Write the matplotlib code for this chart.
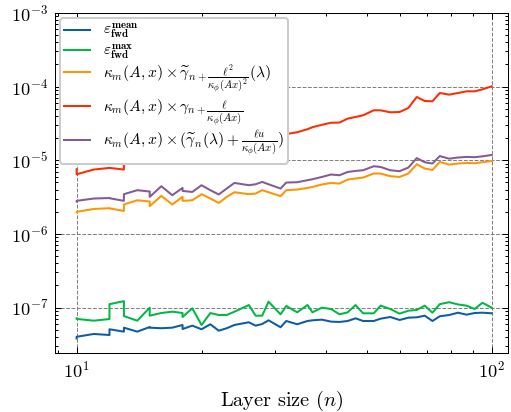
import matplotlib
matplotlib.use("Agg")
import matplotlib.pyplot as plt
from matplotlib.ticker import NullFormatter

# ---- data ----
layer_sizes = [10, 10, 11, 12, 12, 13, 13, 14, 15, 15, 16, 17, 18, 18, 19, 20, 21, 22, 23, 24,
               26, 27, 28, 29, 31, 32, 34, 36, 37, 39, 41, 43, 45, 47, 49, 52, 54, 57, 60, 63,
               66, 69, 72, 75, 79, 83, 87, 91, 95, 100]

eps_mean = [3.8, 4.0, 4.37, 4.23, 5.06, 4.7, 5.32, 4.7, 5.43, 5.32, 5.23, 5.32, 5.79, 5.1, 5.67,
            5.06, 5.92, 4.84, 5.23, 5.79, 6.3, 5.67, 5.97, 6.7, 5.39, 6.56, 5.92, 6.56, 6.7, 6.84,
            6.43, 6.36, 6.56, 7.13, 6.56, 6.56, 7.05, 7.43, 6.77, 7.27, 7.36, 7.74, 6.56, 7.6, 7.91,
            8.5, 7.99, 8.42, 8.5, 8.34]  # x1e-8

eps_max = [7.13, 7.0, 6.62, 6.98, 11.1, 12.2, 7.65, 6.62, 9.94, 7.74, 8.42, 8.77, 8.42, 7.43, 9.75,
           5.79, 8.4, 7.91, 7.91, 8.77, 10.8, 7.74, 7.74, 12.0, 8.08, 10.5, 8.6, 10.8, 8.6, 9.94,
           9.54, 8.08, 8.6, 10.8, 8.34, 8.34, 10.6, 9.54, 8.25, 9.05, 9.25, 10.6, 8.5, 11.1, 11.8,
           11.0, 10.6, 9.54, 11.6, 9.94]  # x1e-8

bound_tilde_sq = [1.97, 1.99, 2.18, 2.23, 2.22, 2.05, 2.51, 2.86, 2.75, 2.38, 3.28, 2.51, 3.18, 2.81,
                  2.86, 3.46, 3.02, 2.63, 3.18, 3.68, 3.46, 3.53, 3.92, 3.68, 3.25, 3.92, 4.0, 4.21,
                  4.34, 4.68, 4.92, 4.83, 5.47, 5.65, 5.82, 6.6, 6.6, 6.07, 5.93, 6.6, 8.82, 7.71,
                  7.38, 9.48, 8.74, 9.02, 9.19, 9.1, 9.4, 9.78]  # x1e-6

bound_gamma = [0.755, 0.645, 0.748, 0.787, 0.787, 0.748, 1.3, 1.4, 1.38, 1.3, 1.5, 1.35, 1.55, 1.42,
               1.45, 1.65, 1.55, 1.45, 1.6, 1.85, 1.8, 1.85, 2.08, 1.99, 1.9, 2.27, 2.4, 2.64, 2.81,
               3.03, 3.23, 3.25, 3.68, 3.87, 4.08, 4.77, 4.77, 4.48, 4.52, 5.13, 7.23, 6.38, 6.32,
               8.19, 7.78, 8.19, 8.63, 8.63, 9.18, 10.1]  # x1e-5

bound_tilde_lu = [2.75, 2.81, 3.02, 3.07, 3.05, 2.81, 3.46, 3.92, 3.76, 3.18, 4.44, 3.35, 4.21, 3.83,
                  3.71, 4.58, 3.92, 3.43, 4.13, 4.92, 4.58, 4.72, 5.08, 4.72, 4.13, 4.98, 5.03, 5.36,
                  5.52, 5.93, 6.4, 6.26, 6.93, 7.16, 7.31, 8.29, 8.11, 7.31, 7.1, 7.96, 10.7, 9.4,
                  9.02, 11.4, 10.5, 10.9, 11.1, 11.0, 11.3, 11.8]  # x1e-6

labels = [
    r"$\varepsilon_{\mathbf{fwd}}^{\mathbf{mean}}$",
    r"$\varepsilon_{\mathbf{fwd}}^{\mathbf{max}}$",
    r"$\kappa_m(A,x) \times \widetilde{\gamma}_{n+\dfrac{\ell^2}{\kappa_\phi(Ax)^2}}(\lambda)$",
    r"$\kappa_m(A,x) \times \gamma_{n+\dfrac{\ell}{\kappa_\phi(Ax)}}$",
    r"$\kappa_m(A,x) \times (\widetilde{\gamma}_n(\lambda) + \frac{\ell u}{\kappa_\phi(Ax)})$",
]
colors = ["#0C5DA5", "#00B945", "#FF9500", "#FF2C00", "#845B97"]

series = [
    [v * 1e-8 for v in eps_mean],
    [v * 1e-8 for v in eps_max],
    [v * 1e-6 for v in bound_tilde_sq],
    [v * 1e-5 for v in bound_gamma],
    [v * 1e-6 for v in bound_tilde_lu],
]

plt.rcParams.update({
    "font.family": "serif",
    "font.serif": ["cmr10"],
    "mathtext.fontset": "cm",
    "axes.formatter.use_mathtext": True,
    "xtick.direction": "in", "ytick.direction": "in",
    "xtick.top": True, "ytick.right": True,
    "xtick.major.size": 3, "xtick.major.width": 0.5,
    "xtick.minor.size": 1.5, "xtick.minor.width": 0.5,
    "ytick.major.size": 3, "ytick.major.width": 0.5,
    "ytick.minor.size": 1.5, "ytick.minor.width": 0.5,
    "axes.linewidth": 0.5,
    "lines.linewidth": 1.0,
})

fig = plt.figure(figsize=(511 / 146, 412 / 146), dpi=146)
ax = fig.add_axes([55 / 511, 1 - 353 / 412, (508 - 55) / 511, (353 - 13) / 412])

for ys, lab, c in zip(series, labels, colors):
    ax.plot(layer_sizes, ys, color=c, label=lab, lw=1.0)

ax.set_xscale("log")
ax.set_yscale("log")
ax.set_xlim(8.87, 109.5)
ax.set_ylim(2.41e-8, 1e-3)
ax.xaxis.set_minor_formatter(NullFormatter())
ax.grid(True, which="major", linestyle="--", color="gray", linewidth=0.5)
ax.tick_params(labelsize=9)
ax.set_xlabel(r"Layer size ($n$)", fontsize=10)
ax.legend(loc="upper left", fontsize=7.7, labelspacing=0.08, handlelength=1.65,
          borderpad=0.3, borderaxespad=0.3, framealpha=1.0)

fig.savefig("out.png", dpi=146)
